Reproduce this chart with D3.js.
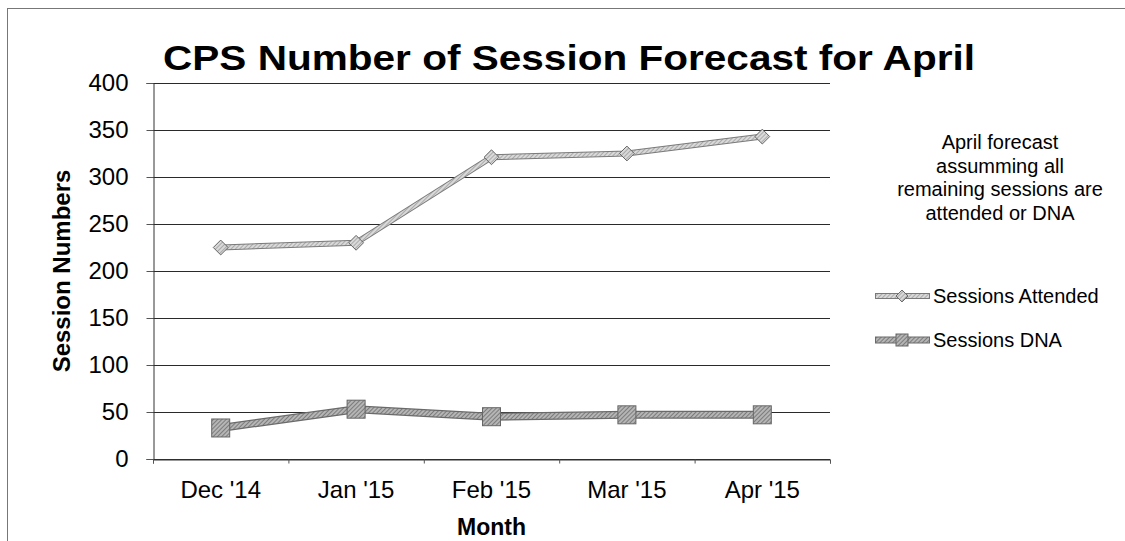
<!DOCTYPE html>
<html>
<head>
<meta charset="utf-8">
<script src="https://cdn.jsdelivr.net/npm/d3@7"></script>
<style>
  html, body { margin: 0; padding: 0; background: #fff; }
  svg { display: block; }
  text { font-family: "Liberation Sans", Arial, Helvetica, sans-serif; fill: #000; }
</style>
</head>
<body>
<svg id="chart" width="1125" height="541"></svg>
<script>
// ---- data ----
const months = ["Dec '14", "Jan '15", "Feb '15", "Mar '15", "Apr '15"];
const sessionsAttended = [225, 230, 321, 325, 343];
const sessionsDNA = [33, 53, 45, 47, 47];
const yTickValues = [0, 50, 100, 150, 200, 250, 300, 350, 400];
const seriesNames = ["Sessions Attended", "Sessions DNA"];
const titleText = "CPS Number of Session Forecast for April";
const noteLines = ["April forecast", "assumming all", "remaining sessions are", "attended or DNA"];

// ---- layout ----
const W = 1125, H = 541;
const plot = { left: 153, right: 830, top: 83, bottom: 459 };

const svg = d3.select("#chart");

// patterns
const defs = svg.append("defs");
function hatch(id, bg, fg) {
  const p = defs.append("pattern").attr("id", id).attr("patternUnits", "userSpaceOnUse")
    .attr("width", 3).attr("height", 3).attr("patternTransform", "rotate(45)");
  p.append("rect").attr("width", 3).attr("height", 3).attr("fill", bg);
  p.append("line").attr("x1", 0).attr("y1", 0).attr("x2", 0).attr("y2", 3)
    .attr("stroke", fg).attr("stroke-width", 1.2);
}
hatch("hatchLight", "#d9d9d9", "#8a8a8a");
hatch("hatchDark", "#b5b5b5", "#555");

// outer border
svg.append("rect").attr("x", 7.5).attr("y", 8.5).attr("width", W).attr("height", H)
  .attr("fill", "none").attr("stroke", "#777").attr("stroke-width", 1);

// scales
const x = d3.scaleBand().domain(months).range([plot.left, plot.right]).padding(0);
const xEdge = d3.scaleLinear().domain([0, months.length]).range([plot.left, plot.right]);
const y = d3.scaleLinear().domain([0, 400]).range([plot.bottom, plot.top]);
const cx = d => x(d) + x.bandwidth() / 2;

// gridlines
svg.append("g").selectAll("line").data(yTickValues).join("line")
  .attr("x1", plot.left).attr("x2", plot.right)
  .attr("y1", d => y(d) + 0.5).attr("y2", d => y(d) + 0.5)
  .attr("stroke", "#2a2a2a").attr("stroke-width", 1);

// y axis
const yAxis = d3.axisLeft(y).tickValues(yTickValues).tickSize(7).tickPadding(18);
const gy = svg.append("g").attr("transform", `translate(${plot.left + 0.5},0)`).call(yAxis);
gy.select(".domain").attr("stroke", "#333");
gy.selectAll(".tick line").attr("stroke", "#555");
gy.selectAll("text").attr("font-size", 24).attr("fill", "#000")
  .attr("font-family", "Liberation Sans, Arial, sans-serif");

// x axis: boundary ticks
const xAxisEdge = d3.axisBottom(xEdge).tickValues(d3.range(months.length + 1)).tickSize(4).tickFormat("");
const gxe = svg.append("g").attr("transform", `translate(0,${plot.bottom + 0.5})`).call(xAxisEdge);
gxe.select(".domain").attr("stroke", "#333");
gxe.selectAll(".tick line").attr("stroke", "#555");

// x axis labels
const xAxis = d3.axisBottom(x).tickSize(0).tickPadding(22);
const gx = svg.append("g").attr("transform", `translate(0,${plot.bottom})`).call(xAxis);
gx.select(".domain").remove();
gx.selectAll("text").attr("font-size", 24).attr("fill", "#000")
  .attr("font-family", "Liberation Sans, Arial, sans-serif");

// axis titles
svg.append("text").attr("x", (plot.left + plot.right) / 2).attr("y", 535)
  .attr("text-anchor", "middle").attr("font-size", 23).attr("font-weight", "bold").text("Month");
svg.append("text").attr("transform", `translate(70,${(plot.top + plot.bottom) / 2}) rotate(-90)`)
  .attr("text-anchor", "middle").attr("font-size", 24).attr("font-weight", "bold").text("Session Numbers");

// title
svg.append("text").attr("x", 163).attr("y", 70)
  .attr("font-size", 35).attr("font-weight", "bold")
  .attr("textLength", 812).attr("lengthAdjust", "spacingAndGlyphs")
  .text(titleText);

// lines
const line = d3.line().x((d, i) => cx(months[i])).y(d => y(d));
function drawSeries(values, outer, outerW, innerW, fillId) {
  const g = svg.append("g");
  g.append("path").attr("d", line(values)).attr("fill", "none")
    .attr("stroke", outer).attr("stroke-width", outerW).attr("stroke-linejoin", "round");
  g.append("path").attr("d", line(values)).attr("fill", "none")
    .attr("stroke", `url(#${fillId})`).attr("stroke-width", innerW).attr("stroke-linejoin", "round");
  return g;
}
const gA = drawSeries(sessionsAttended, "#7a7a7a", 6, 4, "hatchLight");
const gD = drawSeries(sessionsDNA, "#6a6a6a", 8, 5.5, "hatchDark");

const diamond = d3.symbol().type(d3.symbolDiamond2).size(140);
gA.selectAll(".mk").data(sessionsAttended).join("path")
  .attr("d", diamond)
  .attr("transform", (d, i) => `translate(${cx(months[i])},${y(d)})`)
  .attr("fill", "url(#hatchLight)").attr("stroke", "#666").attr("stroke-width", 1);

const sq = 18;
gD.selectAll(".mk").data(sessionsDNA).join("rect")
  .attr("x", (d, i) => cx(months[i]) - sq / 2).attr("y", d => y(d) - sq / 2)
  .attr("width", sq).attr("height", sq)
  .attr("fill", "url(#hatchDark)").attr("stroke", "#666").attr("stroke-width", 1);

// annotation
const note = svg.append("text").attr("x", 1000).attr("y", 149)
  .attr("text-anchor", "middle").attr("font-size", 20);
note.selectAll("tspan").data(noteLines).join("tspan")
  .attr("x", 1000).attr("dy", (d, i) => i === 0 ? 0 : 23.5).text(d => d);

// legend
const legendY = [296, 340];
const lg = svg.append("g");
seriesNames.forEach((name, i) => {
  const ly = legendY[i];
  const isA = i === 0;
  lg.append("line").attr("x1", 875).attr("x2", 930).attr("y1", ly).attr("y2", ly)
    .attr("stroke", isA ? "#7a7a7a" : "#6a6a6a").attr("stroke-width", isA ? 6 : 7);
  lg.append("line").attr("x1", 876).attr("x2", 929).attr("y1", ly).attr("y2", ly)
    .attr("stroke", isA ? "url(#hatchLight)" : "url(#hatchDark)").attr("stroke-width", isA ? 4 : 5);
  if (isA) {
    lg.append("path").attr("d", d3.symbol().type(d3.symbolDiamond2).size(90))
      .attr("transform", `translate(902,${ly})`)
      .attr("fill", "url(#hatchLight)").attr("stroke", "#666");
  } else {
    lg.append("rect").attr("x", 896).attr("y", ly - 6).attr("width", 12).attr("height", 12)
      .attr("fill", "url(#hatchDark)").attr("stroke", "#666");
  }
  lg.append("text").attr("x", 933).attr("y", ly).attr("dy", "0.36em")
    .attr("font-size", 20).text(name);
});
</script>
</body>
</html>
